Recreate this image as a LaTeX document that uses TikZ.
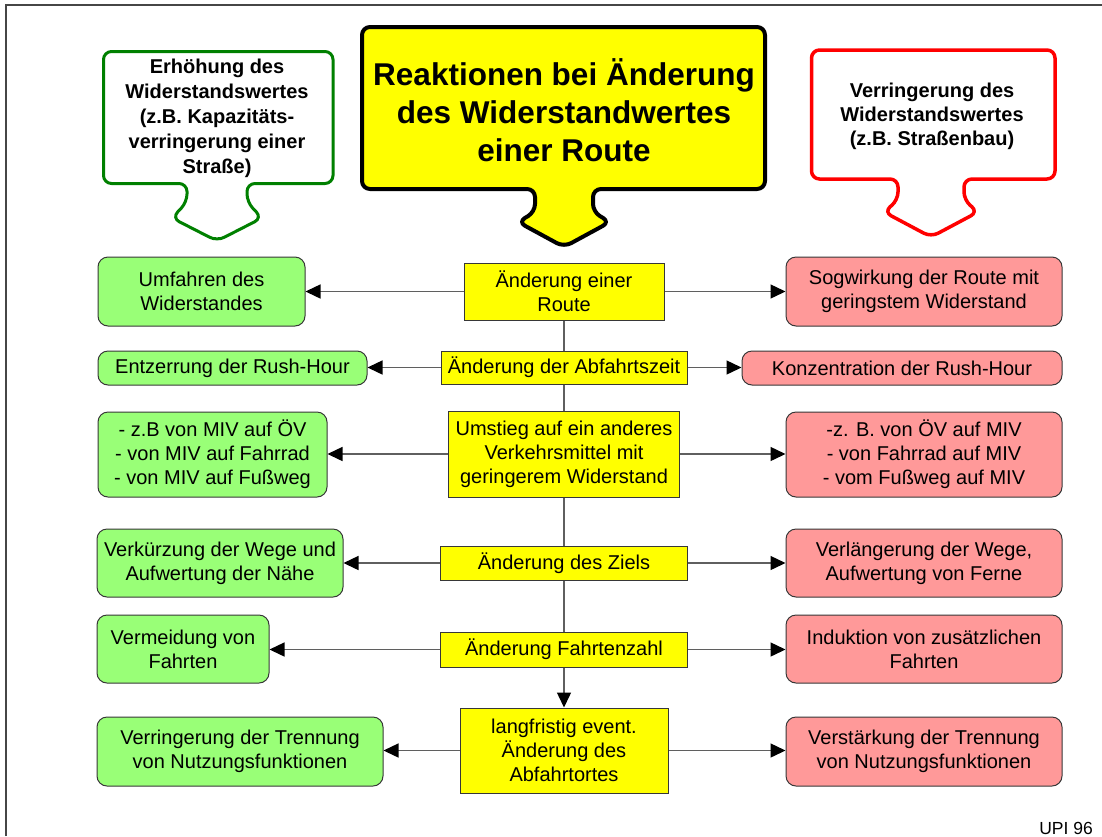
\documentclass[tikz,border=0pt]{standalone}
\usepackage{fontspec}
\setmainfont{Liberation Sans}
\usetikzlibrary{arrows.meta}
\definecolor{gfill}{RGB}{153,255,119}
\definecolor{rfill}{RGB}{255,153,153}
\definecolor{ylw}{RGB}{255,255,0}
\definecolor{gline}{RGB}{0,128,0}
\definecolor{rline}{RGB}{255,0,0}
\definecolor{bord}{RGB}{55,55,55}
\definecolor{connc}{RGB}{95,95,95}
\definecolor{framec}{RGB}{70,70,70}
\begin{document}
\begin{tikzpicture}[x=1pt,y=-1pt,
  txt/.style={font=\fontsize{20}{24}\selectfont, align=center, inner sep=0pt},
  sidebox/.style={txt, draw=bord, line width=1pt, rounded corners=10pt},
  gbox/.style={sidebox, fill=gfill},
  rbox/.style={sidebox, fill=rfill},
  ybox/.style={txt, draw=bord, line width=1pt, fill=ylw},
  conn/.style={draw=connc, line width=1.4pt},
  arr/.style={conn, -{Triangle[length=15pt,width=14pt,color=black]}},
  callout/.style={rounded corners=8pt, line join=round},
  gcall/.style={callout, draw=gline, line width=3pt, fill=white},
  ycall/.style={callout, draw=black, line width=4pt, fill=ylw},
  rcall/.style={callout, draw=rline, line width=3.5pt, fill=white},
  ctext/.style={font=\bfseries\fontsize{20}{25}\selectfont, align=center, inner sep=0pt},
  frameline/.style={draw=framec, line width=1.5pt}
]
\useasboundingbox (0,0) rectangle (1102,836);

% frame
\draw[frameline] (6,836) -- (6,5) -- (1102,5);

% callouts
\draw[gcall] (103.5,51.5) -- (333,51.5) -- (333,183.5) -- (247,183.5) -- (247,202)
  -- (262,218) -- (217,241) -- (172,218) -- (187,202) -- (187,183.5) -- (103.5,183.5) -- cycle;
\node[ctext] (gtxt) at (217,118) {Erhöhung des\\Widerstandswertes\\(z.B. Kapazitäts-\\verringerung einer\\Straße)};

\draw[ycall] (362,27) -- (765,27) -- (765,189) -- (593,189) -- (593,212)
  -- (610,222) -- (564,247) -- (518,222) -- (535,212) -- (535,189) -- (362,189) -- cycle;
\node[ctext, font=\bfseries\fontsize{31.5}{38}\selectfont] (ytxt) at (564,110) {Reaktionen bei Änderung\\des Widerstandwertes\\einer Route};

\draw[rcall] (811.5,50) -- (1055,50) -- (1055,179) -- (964,179) -- (964,200)
  -- (978,212) -- (931,237) -- (884,212) -- (898,200) -- (898,179) -- (811.5,179) -- cycle;
\node[ctext, font=\bfseries\fontsize{20}{24}\selectfont] (rtxt) at (932,116) {Verringerung des\\Widerstandswertes\\(z.B. Straßenbau)};

% central column
\node[ybox, minimum width=200pt, minimum height=57pt] (Y1) at (564,291.5) {Änderung einer\\Route};
\node[ybox, minimum width=246pt, minimum height=33pt] (Y2) at (564,367.5) {Änderung der Abfahrtszeit};
\node[ybox, minimum width=231pt, minimum height=86pt] (Y3) at (564,454) {Umstieg auf ein anderes\\Verkehrsmittel mit\\geringerem Widerstand};
\node[ybox, minimum width=247pt, minimum height=34pt] (Y4) at (564,563) {Änderung des Ziels};
\node[ybox, minimum width=247pt, minimum height=35pt] (Y5) at (564,649.5) {Änderung Fahrtenzahl};
\node[ybox, minimum width=208pt, minimum height=85pt] (Y6) at (564,750.5) {langfristig event.\\Änderung des\\Abfahrtortes};

% left column
\node[gbox, minimum width=207pt, minimum height=69pt] (G1) at (201.5,291.5) {Umfahren des\\Widerstandes};
\node[gbox, minimum width=269pt, minimum height=34pt] (G2) at (232.5,368) {Entzerrung der Rush-Hour};
\node[gbox, minimum width=229pt, minimum height=85pt] (G3) at (212.5,454.5) {- z.B von MIV auf ÖV\\- von MIV auf Fahrrad\\- von MIV auf Fußweg};
\node[gbox, minimum width=246pt, minimum height=68pt] (G4) at (220,563) {Verkürzung der Wege und\\Aufwertung der Nähe};
\node[gbox, minimum width=172pt, minimum height=68pt] (G5) at (183,649) {Vermeidung von\\Fahrten};
\node[gbox, minimum width=286pt, minimum height=69pt] (G6) at (240,751.5) {Verringerung der Trennung\\von Nutzungsfunktionen};

% right column
\node[rbox, minimum width=276pt, minimum height=69pt] (R1) at (924,291.5) {Sogwirkung der Route mit\\geringstem Widerstand};
\node[rbox, minimum width=320pt, minimum height=34pt] (R2) at (902,368) {Konzentration der Rush-Hour};
\node[rbox, minimum width=276pt, minimum height=85pt] (R3) at (924,454.5) {-z. B. von ÖV auf MIV\\- von Fahrrad auf MIV\\- vom Fußweg auf MIV};
\node[rbox, minimum width=276pt, minimum height=68pt] (R4) at (924,563) {Verlängerung der Wege,\\Aufwertung von Ferne};
\node[rbox, minimum width=276pt, minimum height=68pt] (R5) at (924,649) {Induktion von zusätzlichen\\Fahrten};
\node[rbox, minimum width=276pt, minimum height=69pt] (R6) at (924,751.5) {Verstärkung der Trennung\\von Nutzungsfunktionen};

% vertical connectors
\draw[conn] (Y1.south) -- (Y2.north);
\draw[conn] (Y2.south) -- (Y3.north);
\draw[conn] (Y3.south) -- (Y4.north);
\draw[conn] (Y4.south) -- (Y5.north);
\draw[arr] (Y5.south) -- (Y6.north);

% horizontal connectors
\foreach \i in {1,...,6}{
  \draw[arr] (Y\i.west) -- (Y\i.west -| G\i.east);
  \draw[arr] (Y\i.east) -- (Y\i.east -| R\i.west);
}

% footer
\node[font=\fontsize{17.5}{20}\selectfont, anchor=base east, inner sep=0pt] (upi) at (1093,834) {UPI 96};
\end{tikzpicture}
\end{document}
